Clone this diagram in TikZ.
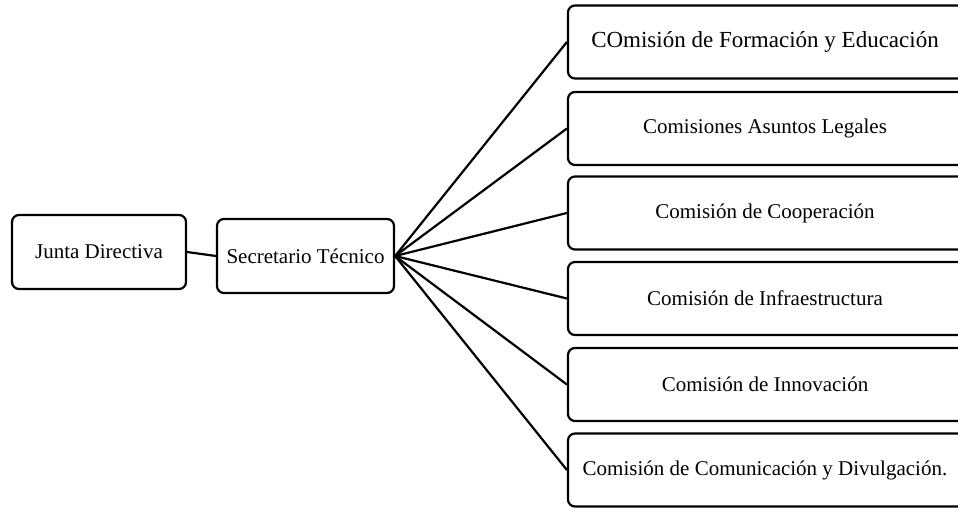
\documentclass[tikz,border=0pt]{standalone}
\usepackage{fontspec}
\setmainfont{Liberation Serif}
\begin{document}
\begin{tikzpicture}[x=1pt,y=-1pt,
  box/.style={draw=black, line width=2.2pt, rounded corners=7pt, inner sep=0pt, font=\fontsize{21}{25}\selectfont},
  leftbox/.style={box, minimum height=74pt},
  combox/.style={box, minimum width=412pt, minimum height=73pt},
  link/.style={draw=black, line width=2.2pt}]
\useasboundingbox (0,0) rectangle (958,508);
\fill[white] (0,0) rectangle (958,508);
\node[leftbox, minimum width=174pt] (jd) at (99,252) {Junta Directiva};
\node[leftbox, minimum width=177pt] (st) at (305.5,256) {Secretario Técnico};
\node[combox, font=\fontsize{23}{27}\selectfont] (c1) at (774,42) {COmisión de Formación y Educación\hspace*{18pt}};
\node[combox] (c2) at (774,128.5) {Comisiones Asuntos Legales\hspace*{18pt}};
\node[combox] (c3) at (774,213) {Comisión de Cooperación\hspace*{18pt}};
\node[combox] (c4) at (774,298.5) {Comisión de Infraestructura\hspace*{18pt}};
\node[combox] (c5) at (774,384.5) {Comisión de Innovación\hspace*{18pt}};
\node[combox] (c6) at (774,470) {Comisión de Comunicación y Divulgación.\hspace*{18pt}};
\draw[link] (jd.east) -- (st.west);
\foreach \c in {c1,c2,c3,c4,c5,c6} {\draw[link] (st.east) -- (\c.west);}
\end{tikzpicture}
\end{document}
